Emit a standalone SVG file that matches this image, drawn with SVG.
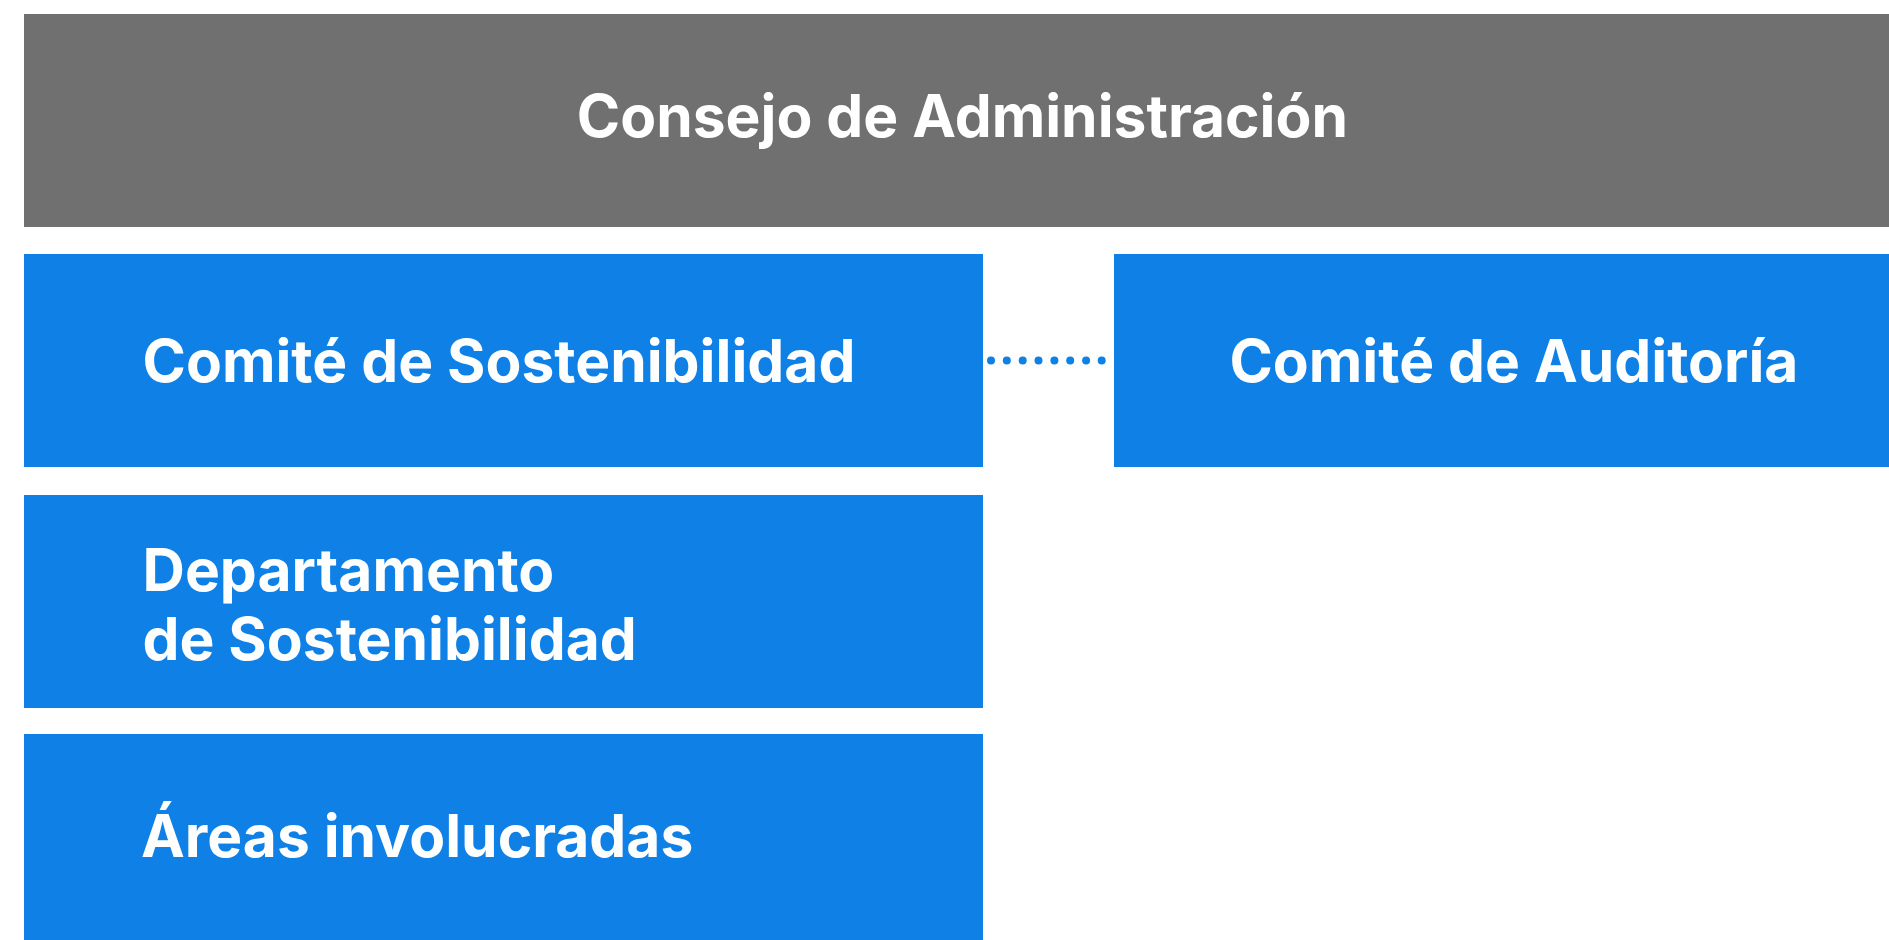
<svg xmlns="http://www.w3.org/2000/svg" width="1889" height="940" viewBox="0 0 1889 940">
<style>
.gray{fill:#707070}
.blue{fill:#0E80E6}
.t{font-family:Inter,"Liberation Sans",sans-serif;font-weight:700;font-size:58.7px;fill:#ffffff}
.dot{fill:#0E80E6}
</style>
<rect width="1889" height="940" fill="#ffffff"/>
<g id="consejo">
<rect class="gray" x="24" y="14" width="1865" height="213"/>
<text class="t" x="962.4" y="137" text-anchor="middle">Consejo de Administración</text>
</g>
<g id="comite-sostenibilidad">
<rect class="blue" x="24" y="254" width="959" height="213"/>
<text class="t" x="142.5" y="382">Comité de Sostenibilidad</text>
</g>
<g id="comite-auditoria">
<rect class="blue" x="1114" y="254" width="775" height="213"/>
<text class="t" x="1229.4" y="382">Comité de Auditoría</text>
</g>
<g id="departamento">
<rect class="blue" x="24" y="495" width="959" height="213"/>
<text class="t" x="142.5" y="591">Departamento</text>
<text class="t" x="142.5" y="660">de Sostenibilidad</text>
</g>
<g id="areas">
<rect class="blue" x="24" y="734" width="959" height="206"/>
<text class="t" x="141" y="857">Áreas involucradas</text>
</g>
<g id="connectors">
<circle class="dot" cx="991" cy="360.5" r="4"/>
<circle class="dot" cx="1006.8" cy="360.5" r="4"/>
<circle class="dot" cx="1022.7" cy="360.5" r="4"/>
<circle class="dot" cx="1038.5" cy="360.5" r="4"/>
<circle class="dot" cx="1054.4" cy="360.5" r="4"/>
<circle class="dot" cx="1070.2" cy="360.5" r="4"/>
<circle class="dot" cx="1086.1" cy="360.5" r="4"/>
<circle class="dot" cx="1101.7" cy="360.5" r="4"/>
</g>
</svg>
